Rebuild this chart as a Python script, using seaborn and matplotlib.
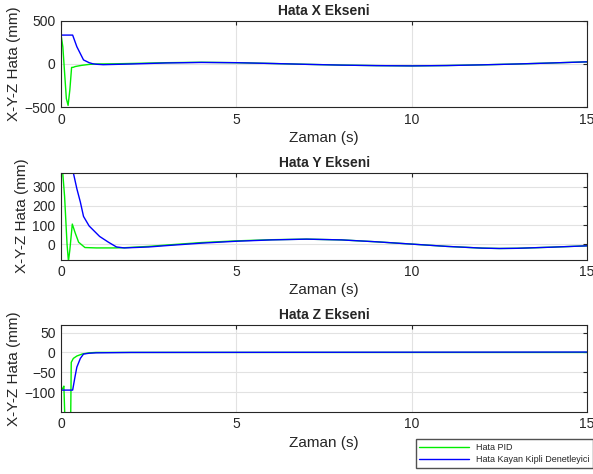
import numpy as np
import pandas as pd
import matplotlib
matplotlib.use('Agg')
import matplotlib.pyplot as plt
import seaborn as sns

sns.set_style('white')
plt.rcParams['font.family'] = ['Liberation Sans', 'DejaVu Sans']

# ortak kuyruk (t >= 1 s)
t_tail = [1.0, 1.5, 2, 3, 4, 5, 6, 7, 8, 9, 10, 11, 12, 13, 14, 15]

# X ekseni
t_x_pid = [0, 0.05, 0.1, 0.15, 0.2, 0.25, 0.3, 0.35, 0.4, 0.5, 0.6, 0.8] + t_tail
x_pid = [335, 200, -100, -400, -480, -300, -40, -38, -30, -22, -15, -5,
         0, 2, 6, 15, 20, 15, 6, -4, -13, -19, -22, -18, -10, 0, 12, 25]
t_x_smc = [0, 0.33, 0.45, 0.64, 0.8, 0.9, 1.0, 1.2, 1.5, 2, 3, 4, 5, 6, 7, 8, 9, 10, 11, 12, 13, 14, 15]
x_smc = [335, 335, 200, 47, 15, 3, -3, -8, -5, 0, 12, 18, 15, 6, -4, -13, -19, -22, -18, -10, 0, 12, 25]

# Y ekseni
t_y_pid = [0, 0.04, 0.1, 0.17, 0.21, 0.25, 0.32, 0.4, 0.5, 0.68, 1.0, 1.5, 1.8, 2.5, 3, 4, 5, 6, 7, 8, 9, 10, 11, 12, 12.5, 13, 14, 15]
y_pid = [390, 390, 250, 0, -90, -30, 105, 60, 10, -18, -20, -20, -19, -12, -5, 8, 17, 23, 26, 22, 12, 0, -12, -21, -23, -22, -16, -9]
t_y_smc = [0, 0.33, 0.45, 0.55, 0.64, 0.8, 1.1, 1.35, 1.58, 1.8, 2.5, 3, 4, 5, 6, 7, 8, 9, 10, 11, 12, 12.5, 13, 14, 15]
y_smc = [390, 390, 290, 220, 145, 95, 40, 10, -15, -20, -15, -8, 5, 15, 22, 26, 22, 12, 0, -12, -21, -23, -22, -16, -9]

# Z ekseni
t_z_pid = [0, 0.05, 0.08, 0.12, 0.2, 0.27, 0.29, 0.35, 0.45, 0.6, 0.8, 1.0, 15]
z_pid = [-95, -90, -85, -200, -250, -200, -25, -15, -9, -4, -1, 0, 0]
t_z_smc = [0, 0.33, 0.4, 0.45, 0.55, 0.64, 0.8, 1.0, 2, 15]
z_smc = [-95, -95, -60, -37, -15, -4, -2, -1, 0, 1]

GREEN = '#00ee00'
BLUE = '#0000ff'

titles = ['Hata X Ekseni', 'Hata Y Ekseni', 'Hata Z Ekseni']
series = [(t_x_pid, x_pid, t_x_smc, x_smc),
          (t_y_pid, y_pid, t_y_smc, y_smc),
          (t_z_pid, z_pid, t_z_smc, z_smc)]
ylims = [(-500, 500), (-82, 375), (-150, 70)]
yticks = [[-500, 0, 500], [0, 100, 200, 300], [-100, -50, 0, 50]]
positions = [[0.103, 0.774, 0.887, 0.182],
             [0.103, 0.452, 0.887, 0.184],
             [0.103, 0.131, 0.887, 0.184]]

fig = plt.figure(figsize=(5.93, 4.74), dpi=100)

for i in range(3):
    ax = fig.add_axes(positions[i])
    tp, vp, ts, vs = series[i]
    sns.lineplot(x=tp, y=vp, color=GREEN, lw=1, ax=ax, estimator=None, sort=False,
                 label='Hata PID' if i == 0 else None, legend=False)
    sns.lineplot(x=ts, y=vs, color=BLUE, lw=1, ax=ax, estimator=None, sort=False,
                 label='Hata Kayan Kipli Denetleyici' if i == 0 else None, legend=False)
    ax.set_xlim(0, 15)
    ax.set_ylim(*ylims[i])
    ax.set_xticks([0, 5, 10, 15])
    ax.set_yticks(yticks[i])
    ax.grid(True, color='#e2e2e2', lw=0.8)
    ax.set_axisbelow(True)
    ax.tick_params(direction='in', top=True, right=True, length=3, width=0.8,
                   labelsize=10, labelcolor='#262626', pad=4)
    for s in ax.spines.values():
        s.set_color('#262626')
        s.set_linewidth(0.8)
    ax.set_title(titles[i], fontsize=10, fontweight='bold', pad=4)
    ax.set_xlabel('Zaman (s)', fontsize=11, color='#262626', labelpad=3)
    ax.set_ylabel('X-Y-Z Hata (mm)', fontsize=11, color='#262626', labelpad=2)
    if i == 0:
        handles, labels = ax.get_legend_handles_labels()

fig.legend(handles, labels, loc='lower right', bbox_to_anchor=(1.008, 0.004),
           fontsize=6.5, frameon=True, fancybox=False, edgecolor='#262626',
           handlelength=5.5, borderpad=0.4, labelspacing=0.35)

fig.savefig('out.png', dpi=100)
